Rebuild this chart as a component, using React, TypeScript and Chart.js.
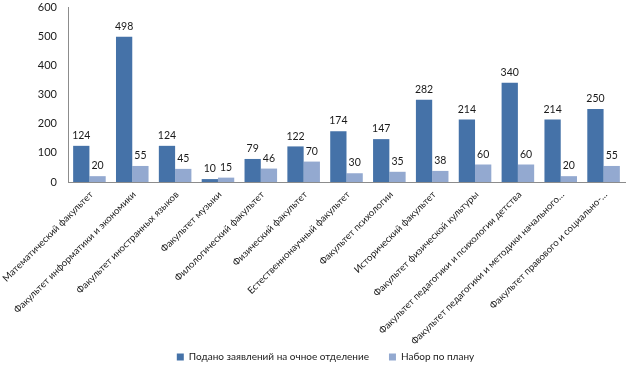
import React, { useEffect, useRef } from "react";
import { Chart, registerables } from "chart.js";

Chart.register(...registerables);

const categories = [
  "Математический факультет",
  "Факультет информатики и экономики",
  "Факультет иностранных языков",
  "Факультет музыки",
  "Филологический факультет",
  "Физический факультет",
  "Естественнонаучный факультет",
  "Факультет психологии",
  "Исторический факультет",
  "Факультет физической культуры",
  "Факультет педагогики и психологии детства",
  "Факультет педагогики и методики начального…",
  "Факультет правового и социально-…",
];

const applied = [124, 498, 124, 10, 79, 122, 174, 147, 282, 214, 340, 214, 250];
const planned = [20, 55, 45, 15, 46, 70, 30, 35, 38, 60, 60, 20, 55];

const yTicks = [0, 100, 200, 300, 400, 500, 600];

const FONT = "Lato, 'Liberation Sans', sans-serif";
const TEXT = "#1a1a1a";

const valueLabels = {
  id: "valueLabels",
  afterDatasetsDraw(chart: any) {
    const ctx = chart.ctx;
    ctx.save();
    ctx.font = `10.5px ${FONT}`;
    ctx.fillStyle = TEXT;
    ctx.textAlign = "center";
    ctx.textBaseline = "bottom";
    chart.data.datasets.forEach((ds: any, i: number) => {
      const meta = chart.getDatasetMeta(i);
      meta.data.forEach((bar: any, j: number) => {
        ctx.fillText(String(ds.data[j]), bar.x, bar.y - 5);
      });
    });
    ctx.restore();
  },
};

// rotated category labels, anchored at each tick of the x scale
const rotatedXLabels = {
  id: "rotatedXLabels",
  afterDraw(chart: any) {
    const ctx = chart.ctx;
    const xs = chart.scales.x;
    ctx.save();
    ctx.font = `9.6px ${FONT}`;
    ctx.fillStyle = TEXT;
    ctx.textAlign = "right";
    ctx.textBaseline = "middle";
    (chart.data.labels as string[]).forEach((lab, i) => {
      const px = xs.getPixelForTick(i);
      ctx.save();
      ctx.translate(px + 2, xs.top + 11);
      ctx.rotate(-Math.PI / 4);
      ctx.fillText(lab, 0, 0);
      ctx.restore();
    });
    ctx.restore();
  },
};

export default function App() {
  const ref = useRef<HTMLCanvasElement>(null);
  useEffect(() => {
    if (!ref.current) return;
    const chart = new Chart(ref.current, {
      type: "bar",
      data: {
        labels: categories,
        datasets: [
          {
            label: "Подано заявлений на очное отделение",
            data: applied,
            backgroundColor: "#4572a8",
            categoryPercentage: 0.76,
            barPercentage: 1,
          },
          {
            label: "Набор по плану",
            data: planned,
            backgroundColor: "#93a9d0",
            categoryPercentage: 0.76,
            barPercentage: 1,
          },
        ],
      },
      options: {
        animation: false,
        responsive: false,
        maintainAspectRatio: false,
        layout: { padding: { top: 7, right: 15, bottom: 0, left: 26 } },
        plugins: {
          tooltip: { enabled: false },
          legend: {
            position: "bottom",
            labels: {
              font: { family: FONT, size: 10 },
              color: TEXT,
              boxWidth: 7,
              boxHeight: 7,
              padding: 20,
            },
          },
        },
        scales: {
          x: {
            grid: { display: false, drawTicks: false },
            border: { display: true, color: "#8c8c8c" },
            ticks: { display: false },
            afterFit(scale: any) {
              const leg = scale.chart.legend;
              const lh = leg && leg.height ? leg.height : 40;
              scale.height = 372 - lh - 182;
              scale.paddingLeft = 0;
              scale.paddingRight = 0;
            },
          },
          y: {
            min: 0,
            max: 600,
            afterBuildTicks(scale: any) {
              scale.ticks = yTicks.map((v) => ({ value: v }));
            },
            grid: { display: false, drawTicks: false },
            border: { display: true, color: "#8c8c8c" },
            ticks: {
              padding: 11,
              font: { family: FONT, size: 11 },
              color: TEXT,
            },
            afterFit(scale: any) {
              scale.width = 42;
              scale.paddingTop = 0;
              scale.paddingBottom = 0;
            },
          },
        },
      },
      plugins: [valueLabels, rotatedXLabels],
    });
    return () => chart.destroy();
  }, []);
  return (
    <div style={{ position: "fixed", left: 0, top: 0, width: 640, height: 372, background: "#fff" }}>
      <canvas ref={ref} width={640} height={372} style={{ width: 640, height: 372 }} />
    </div>
  );
}
